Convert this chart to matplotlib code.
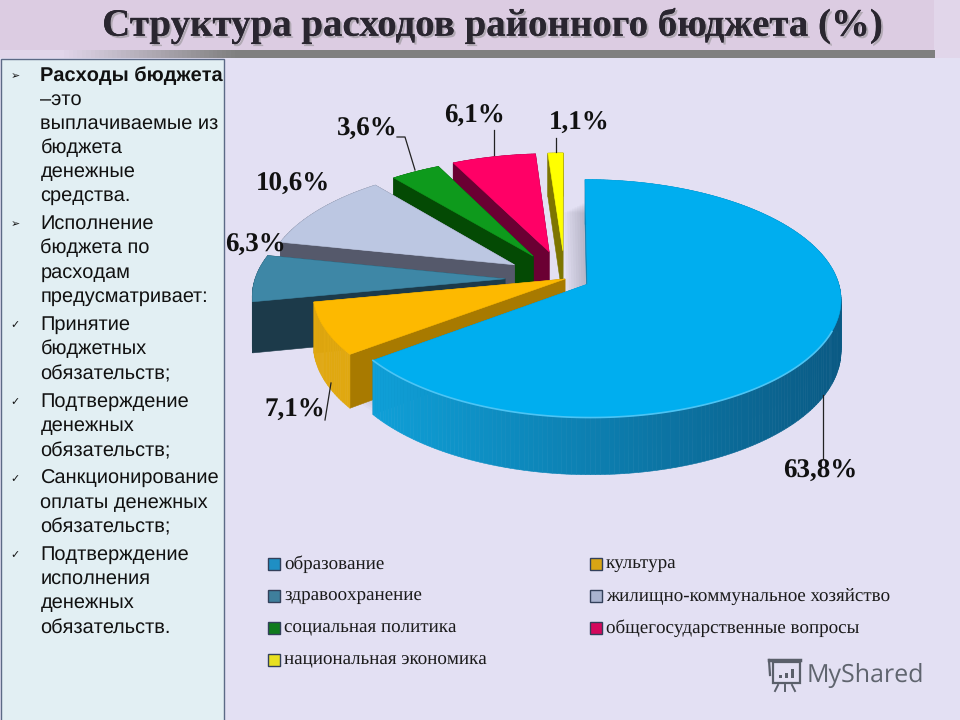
import matplotlib
matplotlib.use("Agg")
import matplotlib.pyplot as plt
import matplotlib.patheffects as pe
import numpy as np
from matplotlib.colors import to_rgb
from matplotlib.patches import Polygon, Rectangle

plt.rcParams["text.hinting"] = "none"
plt.rcParams["text.hinting_factor"] = 1

title = "Структура расходов районного бюджета (%)"
categories = ["образование", "культура", "здравоохранение",
              "жилищно-коммунальное хозяйство", "социальная политика",
              "общегосударственные вопросы", "национальная экономика"]
shares = [63.8, 7.1, 6.3, 10.6, 3.6, 6.1, 1.1]
explode = [0.10, 0.0, 0.24, 0.24, 0.24, 0.25, 0.25]
tops = ["#00aeef", "#fdb900", "#3e87a6", "#bcc7e2", "#0e9a1c", "#ff0066", "#ffff00"]
walls = ["#0a7fb0", "#a87a00", "#1c3a4a", "#55596b", "#044a04", "#6b0033", "#7d7500"]
rims = ["#0a7fb0", "#e0a810", "#1c3a4a", "#55596b", "#044a04", "#6b0033", "#7d7500"]
swatches = ["#1f8fc4", "#d9a514", "#3f7f9c", "#a9b3cf", "#0f7a1c", "#d4085c", "#e8e020"]

panel_lines = [
    ("➢", "Расходы бюджета", True), ("", "–это", False),
    ("", "выплачиваемые из", False), ("", "бюджета", False),
    ("", "денежные", False), ("", "средства.", False),
    ("➢", "Исполнение", False), ("", "бюджета по", False),
    ("", "расходам", False), ("", "предусматривает:", False),
    ("✓", "Принятие", False), ("", "бюджетных", False), ("", "обязательств;", False),
    ("✓", "Подтверждение", False), ("", "денежных", False), ("", "обязательств;", False),
    ("✓", "Санкционирование", False), ("", "оплаты денежных", False), ("", "обязательств;", False),
    ("✓", "Подтверждение", False), ("", "исполнения", False),
    ("", "денежных", False), ("", "обязательств.", False),
]
panel_y = [75, 99, 123, 147, 171, 195, 223, 247, 272, 296, 324, 348, 373,
           401, 425, 450, 478, 502, 526, 554, 578, 602, 627]

CX, CY = 565, 279
RX, RY = 250, 116
PERSP = 0.12
DEPTH = 50


def project(x, y, drop=0.0):
    s = 1 / (1 + PERSP * y)
    return CX + RX * x * s, CY - RY * y * s + drop * s


def slice_outline(t0, t1, e, drop=0.0):
    mid = (t0 + t1) / 2
    ox, oy = e * np.sin(mid), e * np.cos(mid)
    t = np.linspace(t0, t1, max(int((t1 - t0) * 60), 8))
    ax_, ay_ = project(ox, oy, drop)
    rx_, ry_ = project(ox + np.sin(t), oy + np.cos(t), drop)
    return (ax_, ay_), rx_, ry_


def quad(ax, xs, ys, color, z):
    ax.add_patch(Polygon(np.column_stack([xs, ys]), closed=True, fc=color, ec=color, lw=0.4, zorder=z))


def draw_slice(ax, t0, t1, e, top, wall, rim, z, gradient=False):
    apex, rx_, ry_ = slice_outline(t0, t1, e)
    apex_b, bx, by = slice_outline(t0, t1, e, DEPTH)
    # радиальные стенки
    quad(ax, [apex[0], rx_[0], bx[0], apex_b[0]], [apex[1], ry_[0], by[0], apex_b[1]], wall, z)
    quad(ax, [apex[0], rx_[-1], bx[-1], apex_b[0]], [apex[1], ry_[-1], by[-1], apex_b[1]], wall, z)
    # внешняя дуга
    for i in range(len(rx_) - 1):
        c = rim
        if gradient:
            u = (rx_[i] - rx_.min()) / (rx_.max() - rx_.min())
            c = tuple((1 - u) * a + u * b for a, b in zip(to_rgb("#0fa0d8"), to_rgb("#0a5a84")))
        quad(ax, [rx_[i], rx_[i + 1], bx[i + 1], bx[i]], [ry_[i], ry_[i + 1], by[i + 1], by[i]], c, z + 0.1)
    quad(ax, np.r_[apex[0], rx_], np.r_[apex[1], ry_], top, z + 0.2)
    return rx_, ry_


fig = plt.figure(figsize=(9.6, 7.2), dpi=100)
ax = fig.add_axes([0, 0, 1, 1])
ax.set_xlim(0, 960)
ax.set_ylim(720, 0)
ax.axis("off")
fig.patch.set_facecolor("#e3e0f3")

# шапка
ax.add_patch(Rectangle((0, 0), 960, 58, fc="#e1d6ea", ec="none", zorder=0))
ax.add_patch(Rectangle((0, 0), 934, 50, fc="#dccce2", ec="none", zorder=0.5))
fade = np.clip(np.linspace(0, 5, 200), 0, 1).reshape(1, -1, 1)
bar = np.concatenate([np.full((1, 200, 3), 0.5), fade], axis=2)
ax.imshow(bar, extent=(60, 935, 58, 50), aspect="auto", zorder=1)
ax.set_xlim(0, 960)
ax.set_ylim(720, 0)
ax.text(492, 26, title, ha="center", va="center", fontsize=28, fontweight="bold",
        family="Liberation Serif", color="#2a2630", zorder=3,
        path_effects=[pe.withSimplePatchShadow(offset=(1.5, -1.5), shadow_rgbFace="#888888", alpha=0.5), pe.Normal()])

# левая панель
ax.add_patch(Rectangle((0.5, 59), 223, 662, fc="#e2eff3", ec="#5c6a86", lw=1, zorder=1))
for (mark, line, bold), y in zip(panel_lines, panel_y):
    if mark:
        ax.text(15, y + 1, mark, ha="center", va="center", fontsize=8, family="DejaVu Sans", color="#111111", zorder=3)
    ax.text(40.5, y + 6, line, ha="left", va="baseline", fontsize=14.4, family="Liberation Sans",
            fontweight="bold" if bold else "normal", color="#111111", zorder=3)

# пирог
fractions = np.array(shares) / sum(shares)
edges = np.r_[0, np.cumsum(fractions)] * 2 * np.pi
order = [6, 5, 4, 3, 2, 1, 0]
for i in order:
    if i == 0:
        # мягкая тень под синим сектором
        a0, sx, sy = slice_outline(edges[0], edges[1], explode[0], DEPTH / 2)
        for k in range(8):
            grow = 3 + k * 2.5
            ax.add_patch(Polygon(np.column_stack([np.r_[a0[0] - grow, sx - grow], np.r_[a0[1], sy + grow * 0.5]]),
                                 fc="#555566", ec="none", alpha=0.04, zorder=9))
    rx_, ry_ = draw_slice(ax, edges[i], edges[i + 1], explode[i], tops[i], walls[i], rims[i],
                          10 + 2 * (6 - i), gradient=i == 0)
    if i == 0:
        front = ry_ > 330
        ax.plot(rx_[front], ry_[front], color="#4cc4f4", lw=1.2, zorder=23)

# подписи
labels = [f"{v:.1f}%".replace(".", ",") for v in shares]
label_xy = [(820, 471), (295, 410), (255, 245), (293, 184), (367, 129), (474, 116), (579, 123)]
for s, (x, y) in zip(labels, label_xy):
    ax.text(x, y, s, ha="center", va="center", fontsize=19.5, fontweight="bold",
            family="Liberation Serif", color="#111111", zorder=30)
leaders = [([823, 823], [458, 395]), ([325, 331], [420, 383]),
           ([397, 405, 415], [137, 137, 170]), ([494, 494], [130, 155]), ([556, 556], [138, 152])]
for lx, ly in leaders:
    ax.plot(lx, ly, color="#222222", lw=0.9, zorder=29)

# легенда
for i, name in enumerate(categories):
    col, row = i % 2, i // 2
    x = 268 + col * 322
    y = 564 + row * 32
    ax.add_patch(Rectangle((x, y - 6), 12, 12, fc=swatches[i], ec="#33405a", lw=1, zorder=5))
    ax.text(x + 16, y + 4.5, name, ha="left", va="baseline", fontsize=13.6,
            family="Liberation Serif", color="#1a1a1a", zorder=5)

# водяной знак
ic = "#5a5f6a"
ax.add_patch(Rectangle((773, 662), 27, 21, fc="none", ec=ic, lw=1.6, zorder=5))
ax.plot([769, 800], [660, 660], color=ic, lw=2.5, zorder=5)
ax.plot([769, 770], [660, 675], color=ic, lw=1.6, zorder=5)
ax.plot([778, 775], [685, 691], color=ic, lw=1.4, zorder=5)
ax.plot([785, 785], [685, 691], color=ic, lw=1.4, zorder=5)
ax.plot([792, 795], [685, 691], color=ic, lw=1.4, zorder=5)
for bx_, h in zip([779, 785, 791], [3, 5, 9]):
    ax.add_patch(Rectangle((bx_, 678 - h), 3, h, fc=ic, ec="none", zorder=5))
ax.text(807, 675, "MyShared", ha="left", va="center", fontsize=18, family="Open Sans", color="#5f646e", zorder=5)

fig.savefig("out.png", dpi=100, facecolor=fig.get_facecolor())
